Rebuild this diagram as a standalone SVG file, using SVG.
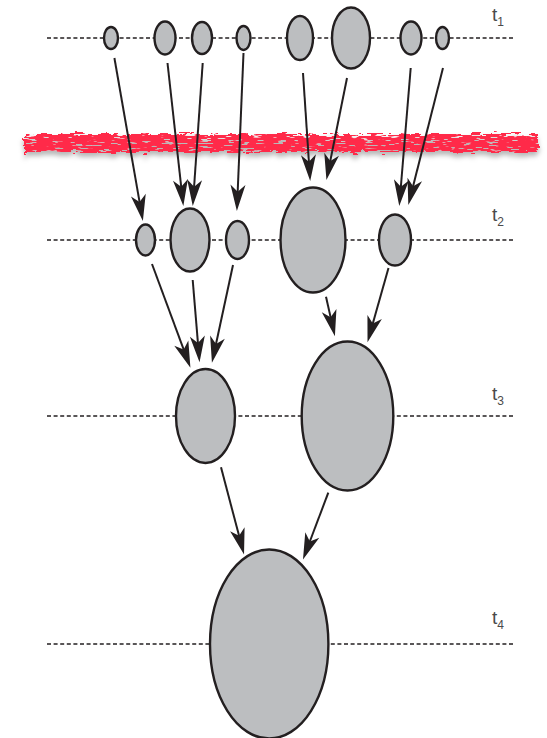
<svg xmlns="http://www.w3.org/2000/svg" width="547" height="738" viewBox="0 0 547 738">
<style>
.dash{stroke:#231f20;stroke-width:1.3;stroke-dasharray:4 2.6;fill:none}
.node{fill:#bcbec0;stroke:#231f20;stroke-width:2.4}
.arr{stroke:#231f20;stroke-width:2;fill:none;marker-end:url(#ah)}
.lbl{font-family:"Liberation Sans",Arial,sans-serif;font-size:19px;fill:#4a4a4a}
.sub{font-size:12px}
</style>
<defs>
<marker id="ah" markerUnits="userSpaceOnUse" markerWidth="30" markerHeight="20" viewBox="-10 -8 24 16" refX="0" refY="0" orient="auto" overflow="visible">
<path d="M12,0 L-9,-6 L-3.5,0 L-9,6 Z" fill="#231f20"/>
</marker>
<filter id="rough" x="-3%" y="-150%" width="106%" height="400%">
<feTurbulence type="fractalNoise" baseFrequency="0.1 0.35" numOctaves="3" seed="4" result="n"/>
<feDisplacementMap in="SourceGraphic" in2="n" scale="9" xChannelSelector="R" yChannelSelector="G" result="d"/>
<feTurbulence type="fractalNoise" baseFrequency="0.08 0.6" numOctaves="2" seed="9" result="n2"/>
<feColorMatrix in="n2" type="matrix" values="0 0 0 0 0  0 0 0 0 0  0 0 0 0 0  0 0 0 -14 9.6" result="holes"/>
<feComposite in="d" in2="holes" operator="in" result="d2"/>
<feGaussianBlur in="d" stdDeviation="2.5" result="b"/>
<feOffset in="b" dx="0" dy="4" result="o"/>
<feFlood flood-color="#000" flood-opacity="0.28"/>
<feComposite in2="o" operator="in" result="s"/>
<feMerge><feMergeNode in="s"/><feMergeNode in="d2"/></feMerge>
</filter>
</defs>

<g id="timelines">
<line class="dash" x1="47" y1="38" x2="515" y2="38"/>
<line class="dash" x1="47" y1="240" x2="515" y2="240"/>
<line class="dash" x1="47" y1="416" x2="515" y2="416"/>
<line class="dash" x1="47" y1="644" x2="515" y2="644"/>
</g>

<g id="labels">
<text class="lbl" x="492" y="21">t<tspan class="sub" dy="5">1</tspan></text>
<text class="lbl" x="492" y="221">t<tspan class="sub" dy="5">2</tspan></text>
<text class="lbl" x="492" y="400">t<tspan class="sub" dy="5">3</tspan></text>
<text class="lbl" x="492" y="624">t<tspan class="sub" dy="5">4</tspan></text>
</g>

<g id="red-band">
<rect x="24" y="134" width="514" height="18" fill="#ff2a48" filter="url(#rough)"/>
</g>

<g id="row1">
<g id="n1a"><ellipse class="node" cx="111" cy="38" rx="7" ry="11"/></g>
<g id="n1b"><ellipse class="node" cx="165" cy="38" rx="10.5" ry="16.5"/></g>
<g id="n1c"><ellipse class="node" cx="202" cy="38" rx="10" ry="16"/></g>
<g id="n1d"><ellipse class="node" cx="243.5" cy="38" rx="7" ry="12"/></g>
<g id="n1e"><ellipse class="node" cx="300" cy="38" rx="13" ry="22"/></g>
<g id="n1f"><ellipse class="node" cx="351" cy="38" rx="19" ry="30.5"/></g>
<g id="n1g"><ellipse class="node" cx="411" cy="38" rx="10.5" ry="16.5"/></g>
<g id="n1h"><ellipse class="node" cx="442.5" cy="38" rx="6.5" ry="11"/></g>
</g>

<g id="row2">
<g id="n2a"><ellipse class="node" cx="145.5" cy="240" rx="9.5" ry="15.5"/></g>
<g id="n2b"><ellipse class="node" cx="190" cy="240" rx="19.5" ry="31.5"/></g>
<g id="n2c"><ellipse class="node" cx="237.5" cy="240" rx="11.5" ry="19"/></g>
<g id="n2d"><ellipse class="node" cx="313" cy="240" rx="32.5" ry="52.5"/></g>
<g id="n2e"><ellipse class="node" cx="395" cy="240" rx="16" ry="25.5"/></g>
</g>

<g id="row3">
<g id="n3a"><ellipse class="node" cx="205.5" cy="416" rx="29.5" ry="47"/></g>
<g id="n3b"><ellipse class="node" cx="347.5" cy="416" rx="45.8" ry="74.5"/></g>
</g>

<g id="row4">
<g id="n4a"><ellipse class="node" cx="269.2" cy="644" rx="59.2" ry="94.5"/></g>
</g>

<g id="connectors">
<line class="arr" x1="114.4" y1="58" x2="140.3" y2="206.2"/>
<line class="arr" x1="167.5" y1="63" x2="181.7" y2="191.1"/>
<line class="arr" x1="202.7" y1="63" x2="193.8" y2="191"/>
<line class="arr" x1="243.5" y1="53" x2="237.5" y2="196"/>
<line class="arr" x1="303" y1="73" x2="309.2" y2="166"/>
<line class="arr" x1="347" y1="78" x2="329.4" y2="165.2"/>
<line class="arr" x1="410.7" y1="68" x2="400.5" y2="191"/>
<line class="arr" x1="443" y1="68" x2="412" y2="190.4"/>
<line class="arr" x1="152" y1="264" x2="185.2" y2="353.7"/>
<line class="arr" x1="192.7" y1="280" x2="198.3" y2="347.3"/>
<line class="arr" x1="233" y1="265" x2="215.1" y2="348.2"/>
<line class="arr" x1="326" y1="296.7" x2="331.6" y2="321.6"/>
<line class="arr" x1="388.5" y1="268" x2="371.6" y2="327.8"/>
<line class="arr" x1="221" y1="467.3" x2="240.2" y2="540.1"/>
<line class="arr" x1="328.3" y1="492.7" x2="308.3" y2="545.5"/>
</g>
</svg>
